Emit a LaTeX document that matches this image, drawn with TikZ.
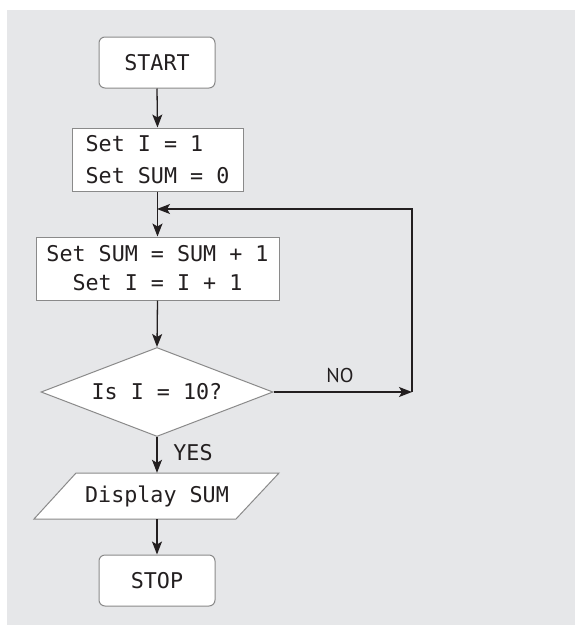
\documentclass[tikz,border=0pt]{standalone}
\usepackage{fontspec}
\setmonofont{DejaVu Sans Mono}
\newfontfamily\labfont{PT Sans}
\usetikzlibrary{shapes.geometric,arrows.meta}
\definecolor{bggray}{HTML}{E6E7E9}
\definecolor{edgegray}{HTML}{8A8A8A}
\definecolor{ink}{HTML}{231F20}
\tikzset{
  arr/.style={draw=ink, line width=1.3pt, -{Stealth[length=13pt,width=10pt,inset=3pt]}},
  plain/.style={draw=ink, line width=1.3pt},
  term/.style={draw=edgegray, fill=white, line width=1pt, rounded corners=6pt, minimum width=116pt, minimum height=51pt, inner sep=0pt, font=\ttfamily\fontsize{21.7}{26}\selectfont, text=ink},
  proc/.style={draw=edgegray, fill=white, line width=1pt, minimum height=63pt, inner sep=0pt, font=\ttfamily\fontsize{21.7}{32}\selectfont, text=ink},
  deci/.style={diamond, aspect=2.6, draw=edgegray, fill=white, line width=1pt, minimum width=232pt, minimum height=89pt, inner sep=0pt, font=\ttfamily\fontsize{21.7}{26}\selectfont, text=ink},
  txt/.style={inner sep=0pt, font=\ttfamily\fontsize{21.7}{26}\selectfont, text=ink},
  lab/.style={inner sep=0pt, font=\labfont\fontsize{20}{24}\selectfont, text=ink}
}
\begin{document}
\begin{tikzpicture}[x=1pt, y=-1pt]
\useasboundingbox (0,0) rectangle (575,625);
\fill[bggray] (7,10) rectangle (575,625);

\node[term] (start) at (157,62.5) {START};
\node[proc, minimum width=171pt, align=left] (init) at (157.5,159.5) {Set I = 1\\Set SUM = 0};
\node[proc, minimum width=243pt, align=center, font=\ttfamily\fontsize{21.7}{29}\selectfont] (body) at (157.5,268.5) {Set SUM = SUM + 1\\Set I = I + 1};
\node[deci] (test) at (157,392) {Is I = 10?};
\fill[white, draw=edgegray, line width=1pt] (76,473) -- (279,473) -- (236,519) -- (34,519) -- cycle;
\node[txt, minimum width=160pt, minimum height=46pt] (disp) at (157,496) {Display SUM};
\node[term] (stop) at (157,580.5) {STOP};

\coordinate (c1) at (412,392);
\coordinate (c2) at (412,209);
\coordinate (join) at (157,209);

\draw[arr] (start.south) -- (init.north);
\draw[arr] (init.south) -- (body.north);
\draw[arr] (body.south) -- (test.north);
\draw[arr] (test.east) -- (c1);
\draw[plain] (c1) -- (c2) -- (300,209);
\draw[arr] (300,209) -- (join);
\draw[arr] (test.south) -- (disp.north);
\draw[arr] (disp.south) -- (stop.north);

\node[lab] (no) at (340,375) {NO};
\node[txt] (yes) at (193,453) {YES};
\end{tikzpicture}
\end{document}
